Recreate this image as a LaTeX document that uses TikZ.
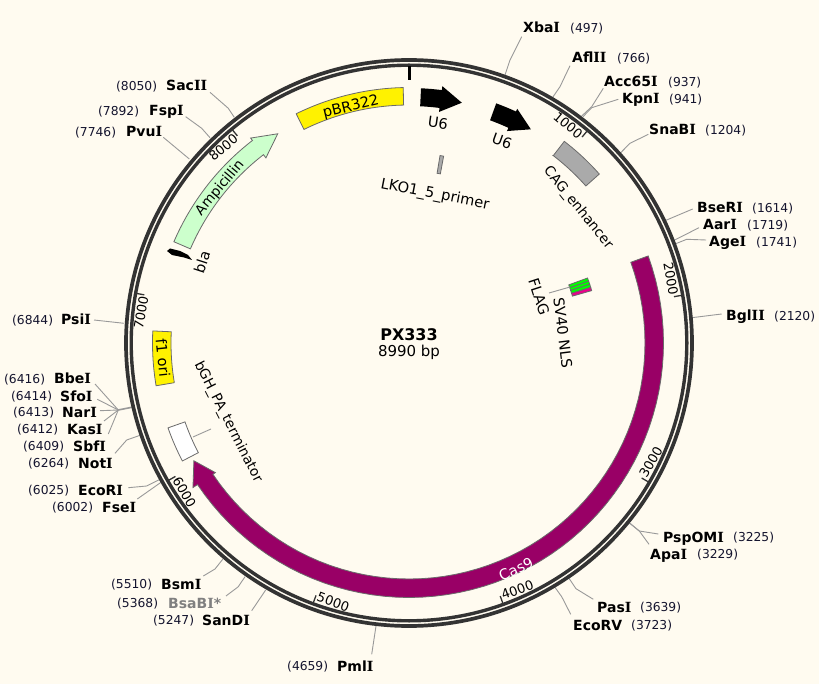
\documentclass[tikz,border=0pt]{standalone}
\usepackage{fontspec}
\setmainfont{DejaVu Sans}
\newfontfamily\serfam{DejaVu Serif}
\newcommand\Iser{{\serfam\bfseries I}}
\definecolor{bgcream}{HTML}{FFFBF0}
\definecolor{ringdark}{HTML}{333333}
\definecolor{casred}{HTML}{990066}
\definecolor{ampgreen}{HTML}{CCFFCC}
\definecolor{leadgray}{HTML}{999999}
\definecolor{edgegray}{HTML}{6A6A6A}
\definecolor{cagray}{HTML}{AAAAAA}
\definecolor{numcol}{HTML}{14142E}
\tikzset{
  ringline/.style={draw=ringdark},
  leader/.style={draw=leadgray,line width=0.9pt,line join=round},
  feat/.style={draw=edgegray,line width=0.8pt,line join=miter},
  sitename/.style={inner sep=0pt,anchor=base west,font=\fontsize{14pt}{15pt}\selectfont\bfseries},
  sitenum/.style={inner sep=0pt,anchor=base west,text=numcol,font=\fontsize{12.3pt}{14pt}\selectfont},
  flab/.style={inner sep=0pt,font=\fontsize{14.6pt}{15pt}\selectfont},
  flabsmall/.style={inner sep=0pt,font=\fontsize{13.8pt}{15pt}\selectfont},
  ticklab/.style={inner sep=1.5pt,font=\fontsize{13pt}{14pt}\selectfont},
}
% band: fill, r1, r2, phi1, phi2
\newcommand\band[5]{\path[feat,fill=#1] (#4:#2) -- plot[domain=#4:#5,samples=30] (\x:#3) -- plot[domain=#5:#4,samples=30] (\x:#2) -- cycle;}
% arrow: fill/draw opts, r1, r2, phiTail, phiBase, phiTip, rb1, rb2
\newcommand\arrowfeat[8]{\path[#1] (#4:#2) -- plot[domain=#4:#5,samples=60] (\x:#3) -- (#5:#8) -- (#6:{(#2+#3)/2}) -- (#5:#7) -- plot[domain=#5:#4,samples=60] (\x:#2) -- cycle;}
% site label: id, name, xname, num, xnum, ycentre
\newcommand\site[6]{\node[sitename] (n#1) at (#3,#6+5) {#2}; \node[sitenum] (p#1) at (#5,#6+4.5) {#4};}
% leader with elbow
\newcommand\leadthree[4]{\coordinate (#1a) at (#2); \coordinate (#1b) at (#3); \coordinate (#1c) at (#4); \draw[leader] (#1a) -- (#1b) -- (#1c);}
\newcommand\leadtwo[3]{\coordinate (#1a) at (#2); \coordinate (#1c) at (#3); \draw[leader] (#1a) -- (#1c);}
\begin{document}
\begin{tikzpicture}[x=1pt,y=-1pt]
\fill[bgcream] (0,0) rectangle (819,684);
\useasboundingbox (0,0) rectangle (819,684);

% leaders
\leadthree{xba}{505,75}{510,60}{521.7,36.7}
\leadthree{afl}{552.7,97.3}{560,86.7}{570,65.7}
\leadthree{acc}{581.7,116}{591.7,106.7}{603.3,88.3}
\leadthree{kpn}{583,116.7}{591.7,107.7}{618.3,99.3}
\leadthree{sna}{620.7,152.7}{630,143.3}{648.3,134.3}
\leadtwo{bse}{665,220.7}{692.7,209}
\leadtwo{aar}{673.3,240.7}{699,227.7}
\leadthree{age}{675,244}{686.7,239.3}{706,240}
\leadtwo{bgl}{691.7,317.7}{721.7,314}
\leadthree{psp}{629,522.7}{639.3,531}{658.3,534}
\leadthree{apa}{630,523.3}{639.3,531}{649,544.3}
\leadthree{pas}{568.3,577.3}{576,588.7}{593.3,599.3}
\leadthree{ecv}{554,586}{561.7,596.7}{570.7,614.3}
\leadtwo{pml}{376,626}{371.7,654.3}
\leadtwo{san}{265.7,590}{251.7,610.7}
\leadthree{bsa}{245,576.7}{238.3,586.7}{226,596}
\leadthree{bsm}{222.7,559.3}{215,569}{203.3,576}
\leadtwo{fse}{163.3,480.7}{137.3,499}
\leadthree{eco}{160,479.3}{146.7,486}{128.3,487.7}
\leadthree{not}{140,435.3}{126.7,440}{115,453.3}
\coordinate (fanhub) at (118.3,410);
\coordinate (fanring) at (131.7,407.3);
\draw[leader,line width=1.6pt] (fanring) -- (fanhub);
\leadtwo{bbe}{118.3,410}{95,384}
\leadtwo{sfo}{118.3,410}{97.3,399.3}
\leadtwo{nar}{118.3,410}{100,410.7}
\leadtwo{kas}{118.3,410}{104,421}
\leadtwo{sbf}{118.3,410}{108.3,434}
\leadthree{sac}{234.3,117.3}{228.3,108.3}{210,92.3}
\leadthree{fsp}{210,137.7}{201.7,128.3}{185.7,116.7}
\leadtwo{pvu}{189.3,159}{163.3,137.3}
\leadtwo{psi}{124,323.3}{94,320}

% plasmid ring
\draw[ringline,line width=3.7pt] (409,343) circle[radius=283pt];
\draw[ringline,line width=3.4pt] (409,343) circle[radius=277.8pt];

\begin{scope}[shift={(409,343)}]
  % ticks
  \draw[black,line width=3pt] (-90:277) -- (-90:263);
  \foreach \k in {1,...,8}{
    \pgfmathsetmacro{\th}{\k*1000/8990*360}
    \pgfmathsetmacro{\ph}{\th-90}
    \coordinate (tka\k) at (\ph:277);
    \coordinate (tkb\k) at (\ph:269);
    \draw[ringdark,line width=1.3pt] (tka\k) -- (tkb\k);
    \pgfmathparse{(\k==3||\k==4||\k==5||\k==6)?1:0}
    \ifnum\pgfmathresult=1
      \pgfmathsetmacro{\rt}{180-\th}
      \node[ticklab,anchor=west,rotate=\rt] (tl\k) at (tkb\k) {\k000};
    \else
      \pgfmathsetmacro{\rt}{-\th}
      \node[ticklab,anchor=east,rotate=\rt] (tl\k) at (tkb\k) {\k000};
    \fi
  }
  % features
  \band{yellow}{238}{255.5}{-116.2}{-91.3}
  \band{cagray}{236.5}{254.5}{-52.4}{-41.6}
  \band{white}{237.5}{255.5}{152.5}{160.6}
  \band{yellow}{238}{256.5}{170.4}{182.7}
  \band{cagray}{172}{190}{-80.6}{-79.5}
  \arrowfeat{feat,fill=casred}{236}{254.5}{-20}{146.2}{151.3}{233}{260}
  \arrowfeat{feat,fill=ampgreen}{238}{256}{-156.7}{-127.7}{-122.1}{234}{259}
  \arrowfeat{fill=black}{237}{255}{-87.3}{-82.6}{-77.6}{233}{259}
  \arrowfeat{fill=black}{237}{255}{-70}{-65.2}{-60.3}{233.5}{258}
  % SV40 NLS / FLAG stack
  \band{green}{170}{190}{-20}{-19}
  \band{green}{170}{190}{-19}{-18}
  \band{green}{170}{190}{-18}{-17}
  \band{magenta}{170}{190}{-17}{-16}
\end{scope}
\fill[black] (167,251) -- (170,248.5) -- (180,251) -- (188,255) -- (192,260) -- (184,257.5) -- (172,255) -- cycle;

\coordinate (bghbox) at (193,437);
\coordinate (bghlab) at (211,429);
\draw[leader] (bghbox) -- (bghlab);
\coordinate (svbox) at (570,287);
\coordinate (svlab) at (549,293);
\draw[leader] (svbox) -- (svlab);

% feature labels
\node[flab,rotate=13.8] (lpbr) at (351,107) {pBR322};
\node[flabsmall,rotate=50] (lamp) at (220,188) {Ampicillin};
\node[flab,rotate=-8] (lu6a) at (438,123) {U6};
\node[flab,rotate=-20] (lu6b) at (502,141) {U6};
\node[flabsmall,rotate=-51] (lcag) at (578,208) {CAG\_enhancer};
\node[flab,rotate=-11] (llko) at (435,195) {LKO1\_5\_primer};
\node[flab,rotate=-83] (lsv) at (563,333) {SV40 NLS};
\node[flab,rotate=-72] (lflag) at (539,297) {FLAG};
\node[flab,rotate=-84] (lf1) at (163,358) {f1 ori};
\node[flabsmall,rotate=-63] (lbgh) at (228,422) {bGH\_PA\_terminator};
\node[flab,rotate=72] (lbla) at (202,262) {bla};
\node[flab,rotate=25,text=white] (lcas) at (516,569) {Cas9};

% title
\node[inner sep=0pt,font=\fontsize{16pt}{17pt}\selectfont\bfseries] (ttl) at (409,335) {PX333};
\node[inner sep=0pt,font=\fontsize{15pt}{16pt}\selectfont] (sz) at (409,352) {8990 bp};

% site labels
\site{XbaI}{Xba\Iser}{523}{(497)}{570}{28}
\site{AflII}{Afl\Iser\Iser}{572}{(766)}{617}{57.7}
\site{Acc}{Acc65\Iser}{604}{(937)}{668}{82}
\site{Kpn}{Kpn\Iser}{622}{(941)}{669}{99}
\site{Sna}{SnaB\Iser}{649}{(1204)}{705}{130}
\site{Bse}{BseR\Iser}{697}{(1614)}{752}{208}
\site{Aar}{Aar\Iser}{703}{(1719)}{747}{225}
\site{Age}{Age\Iser}{709}{(1741)}{756}{242}
\site{Bgl}{Bgl\Iser\Iser}{726}{(2120)}{774}{316}
\site{Psp}{PspOM\Iser}{663}{(3225)}{733}{537}
\site{Apa}{Apa\Iser}{650}{(3229)}{697}{554}
\site{Pas}{Pas\Iser}{597}{(3639)}{640}{607}
\site{Ecv}{EcoRV}{573}{(3723)}{631}{625}
\site{Sac}{Sac\Iser\Iser}{166}{(8050)}{116}{86}
\site{Fsp}{Fsp\Iser}{149}{(7892)}{98}{111}
\site{Pvu}{Pvu\Iser}{126}{(7746)}{75}{132}
\site{Psi}{Psi\Iser}{61}{(6844)}{12}{320}
\site{Bbe}{Bbe\Iser}{54}{(6416)}{4}{379}
\site{Sfo}{Sfo\Iser}{60}{(6414)}{11}{396}
\site{Nar}{Nar\Iser}{62}{(6413)}{13}{412}
\site{Kas}{Kas\Iser}{67}{(6412)}{17}{429}
\site{Sbf}{Sbf\Iser}{73}{(6409)}{23}{446}
\site{Not}{Not\Iser}{78}{(6264)}{28}{463}
\site{Eco}{EcoR\Iser}{78}{(6025)}{28}{490}
\site{Fse}{Fse\Iser}{102}{(6002)}{52}{507}
\site{Bsm}{Bsm\Iser}{161}{(5510)}{111}{584}
\site{Bsa}{\textcolor{gray}{BsaB\Iser*}}{168}{(5368)}{117}{603}
\site{San}{SanD\Iser}{202}{(5247)}{153}{620}
\site{Pml}{Pml\Iser}{337}{(4659)}{287}{666}
\end{tikzpicture}
\end{document}
